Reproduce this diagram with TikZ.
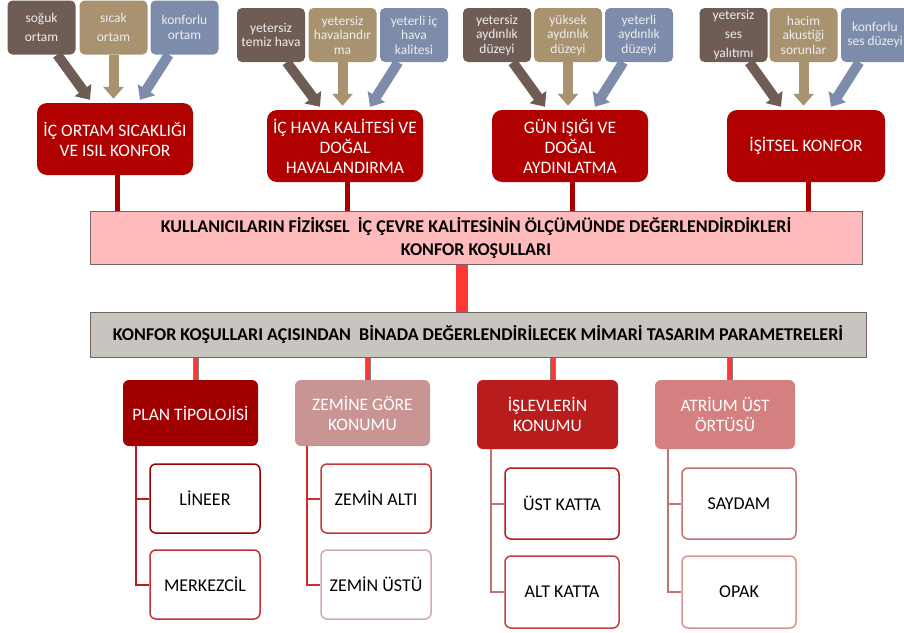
\documentclass[tikz,border=0pt]{standalone}
\usepackage{fontspec}
\setmainfont{Carlito}
\usetikzlibrary{arrows.meta,positioning}

\definecolor{soilbrown}{RGB}{111,93,85}
\definecolor{sandtan}{RGB}{168,146,112}
\definecolor{slateblue}{RGB}{125,140,170}
\definecolor{topred}{RGB}{176,0,0}
\definecolor{stemred}{RGB}{168,0,0}
\definecolor{bandpink}{RGB}{255,187,187}
\definecolor{bandgray}{RGB}{200,196,192}
\definecolor{bandedge}{RGB}{115,100,100}
\definecolor{linkred}{RGB}{255,55,55}
\definecolor{planred}{RGB}{160,0,0}
\definecolor{zeminrose}{RGB}{200,148,148}
\definecolor{islevred}{RGB}{185,28,28}
\definecolor{atriumrose}{RGB}{213,128,128}

\begin{document}
\begin{tikzpicture}[x=1pt,y=-1pt]
\tikzset{
  cause/.style={rounded corners=5pt, text=white!93!black, align=center, inner sep=1pt,
    minimum width=68pt, minimum height=54pt, font=\fontsize{13.5}{14.5}\selectfont},
  widecause/.style={cause, font=\fontsize{13.5}{19}\selectfont},
  topic/.style={rounded corners=10pt, fill=topred, text=white, align=center,
    minimum width=156pt, minimum height=72pt, font=\fontsize{17.5}{20}\selectfont},
  band/.style={draw=bandedge, line width=1pt, align=center, inner sep=0pt,
    font=\bfseries\fontsize{18}{23}\selectfont},
  param/.style={rounded corners=6pt, text=white, align=center,
    font=\fontsize{17.5}{20}\selectfont},
  option/.style={rounded corners=6pt, draw, line width=1.5pt, fill=white, align=center,
    minimum width=110pt, font=\fontsize{18}{20}\selectfont},
  fatarrow/.style={line width=10pt, -{Triangle[width=20pt,length=12pt]}},
  stem/.style={line width=5pt, draw=stemred},
  joint/.style={draw=gray, line width=1pt, double=linkred, double distance=4pt},
  tree/.style={line width=2pt}
}
\useasboundingbox (0,0) rectangle (904,632);

% comfort topics and their causes
\node[widecause, fill=soilbrown] (a1) at (41.5,27.5) {soğuk\\ortam};
\node[widecause, fill=sandtan] (a2) at (113.5,27.5) {sıcak\\ortam};
\node[cause, fill=slateblue] (a3) at (184.5,27.5) {konforlu\\ortam};
\node[topic] (m1) at (115,139) {İÇ ORTAM SICAKLIĞI\\VE ISIL KONFOR};

\node[cause, fill=soilbrown] (b1) at (271,35) {yetersiz\\temiz hava};
\node[cause, fill=sandtan] (b2) at (342.5,35) {yetersiz\\havalandır\\ma};
\node[cause, fill=slateblue] (b3) at (414,35) {yeterli iç\\hava\\kalitesi};
\node[topic] (m2) at (345,146) {İÇ HAVA KALİTESİ VE\\DOĞAL\\HAVALANDIRMA};

\node[cause, fill=soilbrown] (c1) at (497,35) {yetersiz\\aydınlık\\düzeyi};
\node[cause, fill=sandtan] (c2) at (568,35) {yüksek\\aydınlık\\düzeyi};
\node[cause, fill=slateblue] (c3) at (639,35) {yeterli\\aydınlık\\düzeyi};
\node[topic] (m3) at (570,146) {GÜN IŞIĞI VE\\DOĞAL\\AYDINLATMA};

\node[widecause, fill=soilbrown] (d1) at (733.5,35) {yetersiz\\ses\\yalıtımı};
\node[cause, fill=sandtan] (d2) at (803.5,35) {hacim\\akustiği\\sorunlar};
\node[cause, fill=slateblue] (d3) at (875,35) {konforlu\\ses düzeyi};
\node[topic, minimum width=158pt] (m4) at (806,146) {İŞİTSEL KONFOR};

\foreach \g/\m in {a/m1,b/m2,c/m3,d/m4}{
  \draw[fatarrow, draw=soilbrown] (\g1.-60) -- ([xshift=-25pt,yshift=3pt]\m.north);
  \draw[fatarrow, draw=sandtan] (\g2.south) -- ([yshift=4pt]\g2.south |- \m.north);
  \draw[fatarrow, draw=slateblue] (\g3.-120) -- ([xshift=25pt,yshift=3pt]\m.north);
}

% the two bands
\node[band, fill=bandpink, minimum width=772pt, minimum height=53pt] (need) at (476,237.5)
  {KULLANICILARIN FİZİKSEL\ \ İÇ ÇEVRE KALİTESİNİN ÖLÇÜMÜNDE DEĞERLENDİRDİKLERİ\\KONFOR KOŞULLARI};
\node[band, fill=bandgray, minimum width=776pt, minimum height=45pt] (param) at (478,334.5)
  {KONFOR KOŞULLARI AÇISINDAN\ \ BİNADA DEĞERLENDİRİLECEK MİMARİ TASARIM PARAMETRELERİ};

\foreach \m in {m1,m2,m3,m4}
  \draw[stem] ([xshift=2pt]\m.south) -- ([xshift=2pt]\m.south |- need.north);
\draw[line width=12pt, draw=linkred] ([xshift=-14pt]need.south) -- ([xshift=-14pt]need.south |- param.north);

% design parameters
\node[param, fill=planred, minimum width=135pt, minimum height=66pt] (p1) at (190.5,413) {PLAN TİPOLOJİSİ};
\node[param, fill=zeminrose, minimum width=135pt, minimum height=66pt] (p2) at (362.5,413) {ZEMİNE GÖRE\\KONUMU};
\node[param, fill=islevred, minimum width=141pt, minimum height=69pt] (p3) at (547.5,414.5) {İŞLEVLERİN\\KONUMU};
\node[param, fill=atriumrose, minimum width=140pt, minimum height=69pt] (p4) at (725,414.5) {ATRİUM ÜST\\ÖRTÜSÜ};

\foreach \p in {p1,p2,p3,p4}
  \draw[joint] ([xshift=5pt]\p.north |- param.south) -- ([xshift=5pt]\p.north);

\node[option, draw=planred!95!black, minimum height=69pt] (q11) at (205,498.5) {LİNEER};
\node[option, draw=islevred!90!white, minimum height=69pt] (q12) at (205,584.5) {MERKEZCİL};
\node[option, draw=red!55!gray, minimum height=69pt] (q21) at (376,498.5) {ZEMİN ALTI};
\node[option, draw=zeminrose!80!white, minimum height=69pt] (q22) at (376,584.5) {ZEMİN ÜSTÜ};
\node[option, draw=islevred, minimum width=114pt, minimum height=71pt] (q31) at (562,503.5) {ÜST KATTA};
\node[option, draw=islevred!85!white, minimum width=114pt, minimum height=72pt] (q32) at (562,592) {ALT KATTA};
\node[option, draw=atriumrose!90!black, minimum width=114pt, minimum height=71pt] (q41) at (739,503.5) {SAYDAM};
\node[option, draw=atriumrose!85!white, minimum width=114pt, minimum height=72pt] (q42) at (739,592) {OPAK};

\draw[tree, draw=islevred] ([xshift=13pt]p1.south west) |- (q11.west);
\draw[tree, draw=islevred] ([xshift=13pt]p1.south west) |- (q12.west);
\draw[tree, draw=red!65!gray] ([xshift=12pt]p2.south west) |- (q21.west);
\draw[tree, draw=red!65!gray] ([xshift=12pt]p2.south west) |- (q22.west);
\draw[tree, draw=atriumrose!90!black] ([xshift=14pt]p3.south west) |- (q31.west);
\draw[tree, draw=atriumrose!90!black] ([xshift=14pt]p3.south west) |- (q32.west);
\draw[tree, draw=atriumrose!90!black] ([xshift=13pt]p4.south west) |- (q41.west);
\draw[tree, draw=atriumrose!90!black] ([xshift=13pt]p4.south west) |- (q42.west);
\end{tikzpicture}
\end{document}
